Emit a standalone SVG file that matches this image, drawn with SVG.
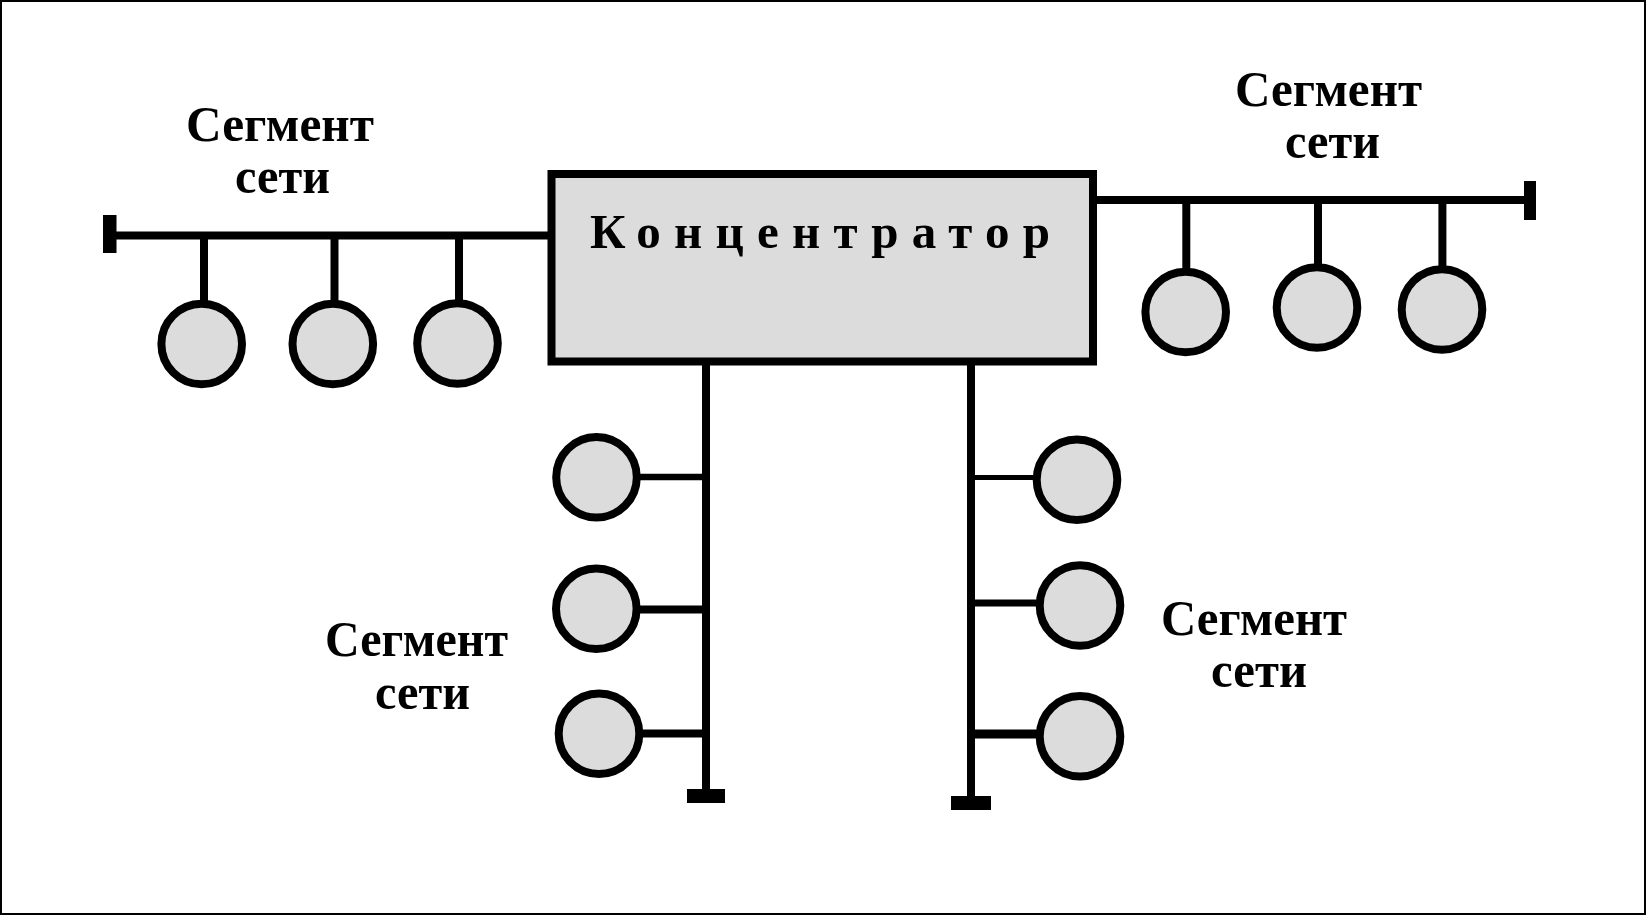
<svg xmlns="http://www.w3.org/2000/svg" width="1646" height="915" viewBox="0 0 1646 915">
<style>
.frame{fill:#ffffff;stroke:#000000;stroke-width:2}
.hub{fill:#dcdcdc;stroke:#000000;stroke-width:8}
.node{fill:#dcdcdc;stroke:#000000;stroke-width:8}
.wire{stroke:#000000;stroke-width:8;fill:none}
.term{fill:#000000}
.lbl{font-family:"Liberation Serif","Times New Roman",serif;font-weight:bold;font-size:50px;fill:#000000}
.title{font-family:"Liberation Serif","Times New Roman",serif;font-weight:bold;font-size:49px;fill:#000000}
</style>
<rect class="frame" x="1" y="1" width="1644" height="913"/>

<g id="connectors">
  <!-- left segment bus -->
  <line class="wire" x1="114" y1="235.5" x2="549" y2="235.5"/>
  <rect class="term" x="103" y="215" width="13.5" height="38"/>
  <line class="wire" x1="204" y1="238" x2="204" y2="302"/>
  <line class="wire" x1="334.5" y1="238" x2="334.5" y2="302"/>
  <line class="wire" x1="459" y1="238" x2="459" y2="301"/>
  <!-- right segment bus -->
  <line class="wire" x1="1096" y1="200" x2="1526" y2="200"/>
  <rect class="term" x="1524" y="181" width="12" height="39"/>
  <line class="wire" x1="1186.3" y1="204" x2="1186.3" y2="269"/>
  <line class="wire" x1="1318" y1="203" x2="1318" y2="265"/>
  <line class="wire" x1="1442.4" y1="203" x2="1442.4" y2="267"/>
  <!-- lower left bus -->
  <line class="wire" x1="706" y1="364" x2="706" y2="790"/>
  <rect class="term" x="687" y="789" width="38" height="14"/>
  <line class="wire" style="stroke-width:6.5" x1="638" y1="477" x2="703" y2="477"/>
  <line class="wire" x1="638" y1="609.5" x2="703" y2="609.5"/>
  <line class="wire" x1="641" y1="733.5" x2="703" y2="733.5"/>
  <!-- lower right bus -->
  <line class="wire" x1="971" y1="364" x2="971" y2="797"/>
  <rect class="term" x="951" y="796" width="40" height="14"/>
  <line class="wire" style="stroke-width:5" x1="974" y1="477.5" x2="1035" y2="477.5"/>
  <line class="wire" style="stroke-width:7" x1="974" y1="603" x2="1038" y2="603"/>
  <line class="wire" style="stroke-width:9" x1="974" y1="734" x2="1038" y2="734"/>
</g>

<g id="hub">
  <rect class="hub" x="551.5" y="174" width="541.5" height="187.5"/>
  <text class="title" x="590" y="248" textLength="460" lengthAdjust="spacing">Концентратор</text>
</g>

<g id="node-l1"><circle class="node" cx="201.7" cy="344" r="40.3"/></g>
<g id="node-l2"><circle class="node" cx="332.8" cy="344" r="40.3"/></g>
<g id="node-l3"><circle class="node" cx="457.5" cy="343.5" r="40.3"/></g>

<g id="node-r1"><circle class="node" cx="1185.7" cy="312" r="40.3"/></g>
<g id="node-r2"><circle class="node" cx="1317" cy="307.5" r="40.3"/></g>
<g id="node-r3"><circle class="node" cx="1442" cy="309.5" r="40.3"/></g>

<g id="node-bl1"><circle class="node" cx="596.5" cy="477.2" r="40.3"/></g>
<g id="node-bl2"><circle class="node" cx="596.3" cy="608.8" r="40.3"/></g>
<g id="node-bl3"><circle class="node" cx="599" cy="733.8" r="40.3"/></g>

<g id="node-br1"><circle class="node" cx="1077" cy="479.7" r="40.3"/></g>
<g id="node-br2"><circle class="node" cx="1080" cy="605.5" r="40.3"/></g>
<g id="node-br3"><circle class="node" cx="1080" cy="736.3" r="40.3"/></g>

<g id="label-top-left">
  <text class="lbl" x="186" y="141" textLength="188" lengthAdjust="spacingAndGlyphs">Сегмент</text>
  <text class="lbl" x="235" y="193" textLength="95" lengthAdjust="spacingAndGlyphs">сети</text>
</g>
<g id="label-top-right">
  <text class="lbl" x="1235" y="106" textLength="187" lengthAdjust="spacingAndGlyphs">Сегмент</text>
  <text class="lbl" x="1285" y="157.5" textLength="95" lengthAdjust="spacingAndGlyphs">сети</text>
</g>
<g id="label-bottom-left">
  <text class="lbl" x="325" y="656" textLength="183" lengthAdjust="spacingAndGlyphs">Сегмент</text>
  <text class="lbl" x="375" y="708.5" textLength="95" lengthAdjust="spacingAndGlyphs">сети</text>
</g>
<g id="label-bottom-right">
  <text class="lbl" x="1161" y="635" textLength="186" lengthAdjust="spacingAndGlyphs">Сегмент</text>
  <text class="lbl" x="1211" y="687" textLength="96" lengthAdjust="spacingAndGlyphs">сети</text>
</g>
</svg>
